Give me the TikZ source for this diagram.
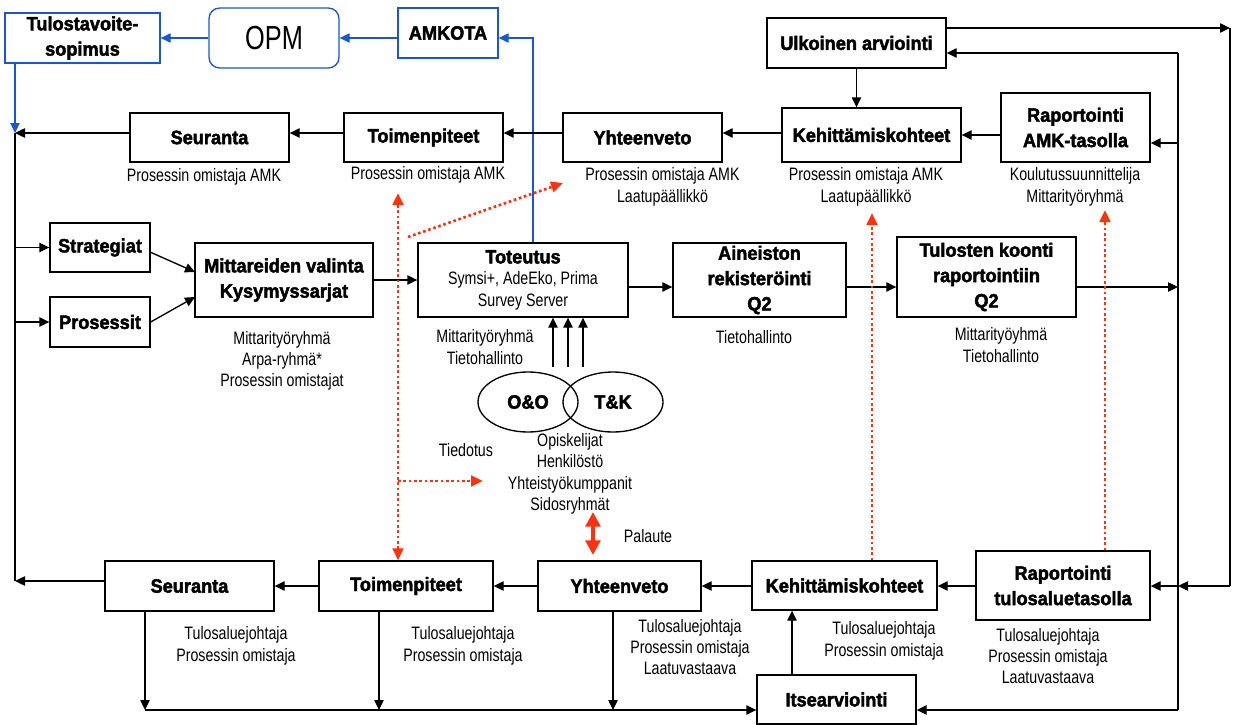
\documentclass[tikz,border=0pt]{standalone}
\usepackage{fontspec}
\setmainfont{Liberation Sans}
\newfontfamily\regf{Liberation Sans}[FakeStretch=0.79]
\newfontfamily\heavyf{Liberation Sans}[FakeBold=2.2, FakeStretch=0.94]
\newfontfamily\opmf{Liberation Sans}[FakeStretch=0.76]
\usetikzlibrary{arrows.meta,shapes.geometric}
\definecolor{linkblue}{RGB}{25,85,215}
\definecolor{notered}{RGB}{255,50,15}

\tikzset{
  sz/.style 2 args={minimum width=#1*0.75pt, minimum height=#2*0.75pt},
  box/.style={draw, line width=1pt, inner sep=0pt, align=center,
    font=\heavyf\bfseries\fontsize{14.5pt}{19pt}\selectfont},
  bbox/.style={box, draw=linkblue},
  lbl/.style={align=center, inner sep=0pt,
    font=\regf\fontsize{13.5pt}{16pt}\selectfont},
  ln/.style={line width=1pt},
  arr/.style={line width=1pt, -{Triangle[length=7.5pt,width=7pt]}},
  barr/.style={color=linkblue, line width=0.8pt, -{Triangle[length=7.5pt,width=7pt]}},
  rdot/.style={color=notered, line width=2pt, dash pattern=on 2pt off 2pt},
  rarr/.style={rdot, -{Triangle[length=9pt,width=8pt]}},
  rarrs/.style={rdot, {Triangle[length=9pt,width=8pt]}-{Triangle[length=9pt,width=8pt]}},
}

\begin{document}
\begin{tikzpicture}[x=0.75pt,y=-0.75pt]
\path[fill=white,use as bounding box] (0,0) rectangle (1236,725);

% reference levels
\coordinate (r1) at (0,133);
\coordinate (r3) at (0,287);
\coordinate (r5) at (0,586);
\coordinate (lt) at (15,133);
\coordinate (lb) at (15,581);
\coordinate (ls) at (15,247.5);
\coordinate (lp) at (15,322);
\coordinate (rA) at (1230,28);
\coordinate (rB) at (1230,586);
\coordinate (iA) at (1178,53);
\coordinate (iB) at (1178,710);
\coordinate (iR) at (1178,143);
\coordinate (iT) at (1178,287);
\coordinate (iX) at (1178,586);
\coordinate (bL) at (145,710);
\coordinate (d2) at (379,710);
\coordinate (d3) at (613,710);
\coordinate (kx) at (792,0);
\coordinate (bj) at (533,38);
\coordinate (s1) at (150,252);
\coordinate (s2) at (195,272);
\coordinate (p2) at (195,297);
\coordinate (u1) at (553,367);
\coordinate (u2) at (568,367);
\coordinate (u3) at (583,367);
\coordinate (t1) at (398,193);
\coordinate (tb) at (398,481);
\coordinate (te) at (483,481);
\coordinate (g1) at (408,237);
\coordinate (g2) at (563,183);
\coordinate (k1) at (872,213);
\coordinate (k2) at (1105,210);
\coordinate (fa) at (593,512);
\coordinate (fb) at (593,555);

% top level
\node[bbox, sz={155}{50}] (tsop) at (82.5,38) {Tulostavoite-\\sopimus};
\node[draw=linkblue, line width=1pt, rounded corners=8pt, inner sep=0pt, sz={130}{60},
  font=\opmf\fontsize{25pt}{25pt}\selectfont] (opm) at (274,38) {OPM};
\node[bbox, sz={100}{50}] (amkota) at (448,33) {AMKOTA};
\node[box, sz={179}{50}] (ulk) at (856.5,43) {Ulkoinen arviointi};

% AMK level row
\node[box, sz={159}{49}] (seur1) at (209.5,137.5) {Seuranta};
\node[box, sz={159}{49}] (toim1) at (423.5,137.5) {Toimenpiteet};
\node[box, sz={159}{49}] (yht1) at (642.5,137.5) {Yhteenveto};
\node[box, sz={179}{54}] (keh1) at (871.5,135) {Kehittämiskohteet};
\node[box, sz={149}{69}] (rap1) at (1075.5,127.5) {Raportointi\\AMK-tasolla};

% measurement row
\node[box, sz={100}{49}] (strat) at (100,247.5) {Strategiat};
\node[box, sz={100}{50}] (pros) at (100,322) {Prosessit};
\node[box, sz={178}{74}] (mitt) at (284,280) {Mittareiden valinta\\Kysymyssarjat};
\node[box, sz={210}{74}, font=\regf\fontsize{13.5pt}{16pt}\selectfont] (tot) at (523,280)
  {{\heavyf\bfseries\fontsize{14.5pt}{17pt}\selectfont Toteutus}\\Symsi+, AdeEko, Prima\\Survey Server};
\node[box, sz={173}{74}] (ain) at (759.5,280) {Aineiston\\rekisteröinti\\Q2};
\node[box, sz={179}{80}] (tul) at (986.5,277) {Tulosten koonti\\raportointiin\\Q2};

% stakeholder circles
\node[draw, ellipse, line width=1pt, sz={100}{60}, inner sep=0pt,
  font=\heavyf\bfseries\fontsize{14.5pt}{17pt}\selectfont] (oo) at (528,402) {O\&O};
\node[draw, ellipse, line width=1pt, sz={100}{60}, inner sep=0pt] (tk) at (613,402) {};
\node[font=\heavyf\bfseries\fontsize{14.5pt}{17pt}\selectfont, inner sep=0pt] (tkl) at (613,402) {T\&K};

% unit level row
\node[box, sz={169}{50}] (seur2) at (189.5,586) {Seuranta};
\node[box, sz={174}{50}] (toim2) at (406,586) {Toimenpiteet};
\node[box, sz={163}{50}] (yht2) at (619.5,586) {Yhteenveto};
\node[box, sz={185}{49}] (keh2) at (844.5,585.5) {Kehittämiskohteet};
\node[box, sz={174}{69}] (rap2) at (1063,585.5) {Raportointi\\tulosaluetasolla};
\node[box, sz={159}{49}] (its) at (836.5,699.5) {Itsearviointi};

% responsibility labels
\node[lbl] (l1) at (204,177) {Prosessin omistaja AMK};
\node[lbl] (l2) at (428,175) {Prosessin omistaja AMK};
\node[lbl] (l3) at (662.5,187) {Prosessin omistaja AMK\\Laatupäällikkö};
\node[lbl] (l4) at (866,187) {Prosessin omistaja AMK\\Laatupäällikkö};
\node[lbl] (l5) at (1075,187) {Koulutussuunnittelija\\Mittarityöryhmä};
\node[lbl] (l6) at (282,361) {Mittarityöryhmä\\Arpa-ryhmä*\\Prosessin omistajat};
\node[lbl] (l7) at (485,347) {Mittarityöryhmä\\Tietohallinto};
\node[lbl] (l8) at (754,337) {Tietohallinto};
\node[lbl] (l9) at (1001,345) {Mittarityöyhmä\\Tietohallinto};
\node[lbl] (l10) at (466,450) {Tiedotus};
\node[lbl] (l11) at (570,474) {Opiskelijat\\Henkilöstö\\Yhteistyökumppanit\\Sidosryhmät};
\node[lbl] (l12) at (648,536) {Palaute};
\node[lbl] (l13) at (236,646) {Tulosaluejohtaja\\Prosessin omistaja};
\node[lbl] (l14) at (463,646) {Tulosaluejohtaja\\Prosessin omistaja};
\node[lbl] (l15) at (690,647) {Tulosaluejohtaja\\Prosessin omistaja\\Laatuvastaava};
\node[lbl] (l16) at (884,641) {Tulosaluejohtaja\\Prosessin omistaja};
\node[lbl] (l17) at (1048,656) {Tulosaluejohtaja\\Prosessin omistaja\\Laatuvastaava};

% blue reporting links
\draw[barr] (opm.west) -- (tsop.east);
\draw[barr] (amkota.west |- opm.west) -- (opm.east);
\draw[barr] (tot.north -| bj) -- (bj) -- (amkota.east |- bj);
\draw[barr] (tsop.south -| lt) -- (lt);

% left return line
\draw[ln] (lt) -- (lb);
\draw[arr] (seur1.west |- lt) -- (lt);
\draw[arr] (ls) -- (strat.west);
\draw[arr] (lp) -- (pros.west);

% AMK level flow
\draw[arr] (toim1.west |- r1) -- (seur1.east |- r1);
\draw[arr] (yht1.west |- r1) -- (toim1.east |- r1);
\draw[arr] (keh1.west |- r1) -- (yht1.east |- r1);
\draw[arr] (rap1.west |- keh1.east) -- (keh1.east);
\draw[arr] (ulk.south) -- (ulk.south |- keh1.north);

% right side loops
\draw[arr] (ulk.east |- rA) -- (rA);
\draw[ln] (rA) -- (rB);
\draw[arr] (rB) -- (iX);
\draw[arr] (iX) -- (rap2.east |- iX);
\draw[ln] (iB) -- (iA);
\draw[arr] (iA) -- (ulk.east |- iA);
\draw[arr] (iR) -- (rap1.east |- iR);
\draw[arr] (tul.east |- iT) -- (iT);
\draw[arr] (iB) -- (its.east |- iB);

% measurement flow
\draw[arr] (s1) -- (s2);
\draw[arr] (pros.east) -- (p2);
\draw[arr] (mitt.east) -- (tot.west);
\draw[arr] (tot.east |- r3) -- (ain.west |- r3);
\draw[arr] (ain.east |- r3) -- (tul.west |- r3);
\draw[arr] (u1) -- (tot.south -| u1);
\draw[arr] (u2) -- (tot.south -| u2);
\draw[arr] (u3) -- (tot.south -| u3);

% unit level flow
\draw[arr] (rap2.west |- r5) -- (keh2.east |- r5);
\draw[arr] (keh2.west |- r5) -- (yht2.east |- r5);
\draw[arr] (yht2.west |- r5) -- (toim2.east |- r5);
\draw[arr] (toim2.west |- r5) -- (seur2.east |- r5);
\draw[arr] (seur2.west |- lb) -- (lb);
\draw[arr] (seur2.south -| bL) -- (bL);
\draw[arr] (toim2.south -| d2) -- (d2);
\draw[arr] (yht2.south -| d3) -- (d3);
\draw[ln] (bL) -- (d3);
\draw[arr] (d3) -- (its.west |- d3);
\draw[arr] (its.north -| kx) -- (keh2.south -| kx);

% communication and feedback
\draw[rarrs] (toim2.north -| t1) -- (t1);
\draw[rarr] (tb) -- (te);
\draw[rarr] (g1) -- (g2);
\draw[rarr] (keh2.north -| k1) -- (k1);
\draw[rarr] (rap2.north -| k2) -- (k2);
\draw[color=notered, line width=3.5pt,
  {Triangle[length=11pt,width=11pt]}-{Triangle[length=11pt,width=11pt]}] (fa) -- (fb);
\end{tikzpicture}
\end{document}
